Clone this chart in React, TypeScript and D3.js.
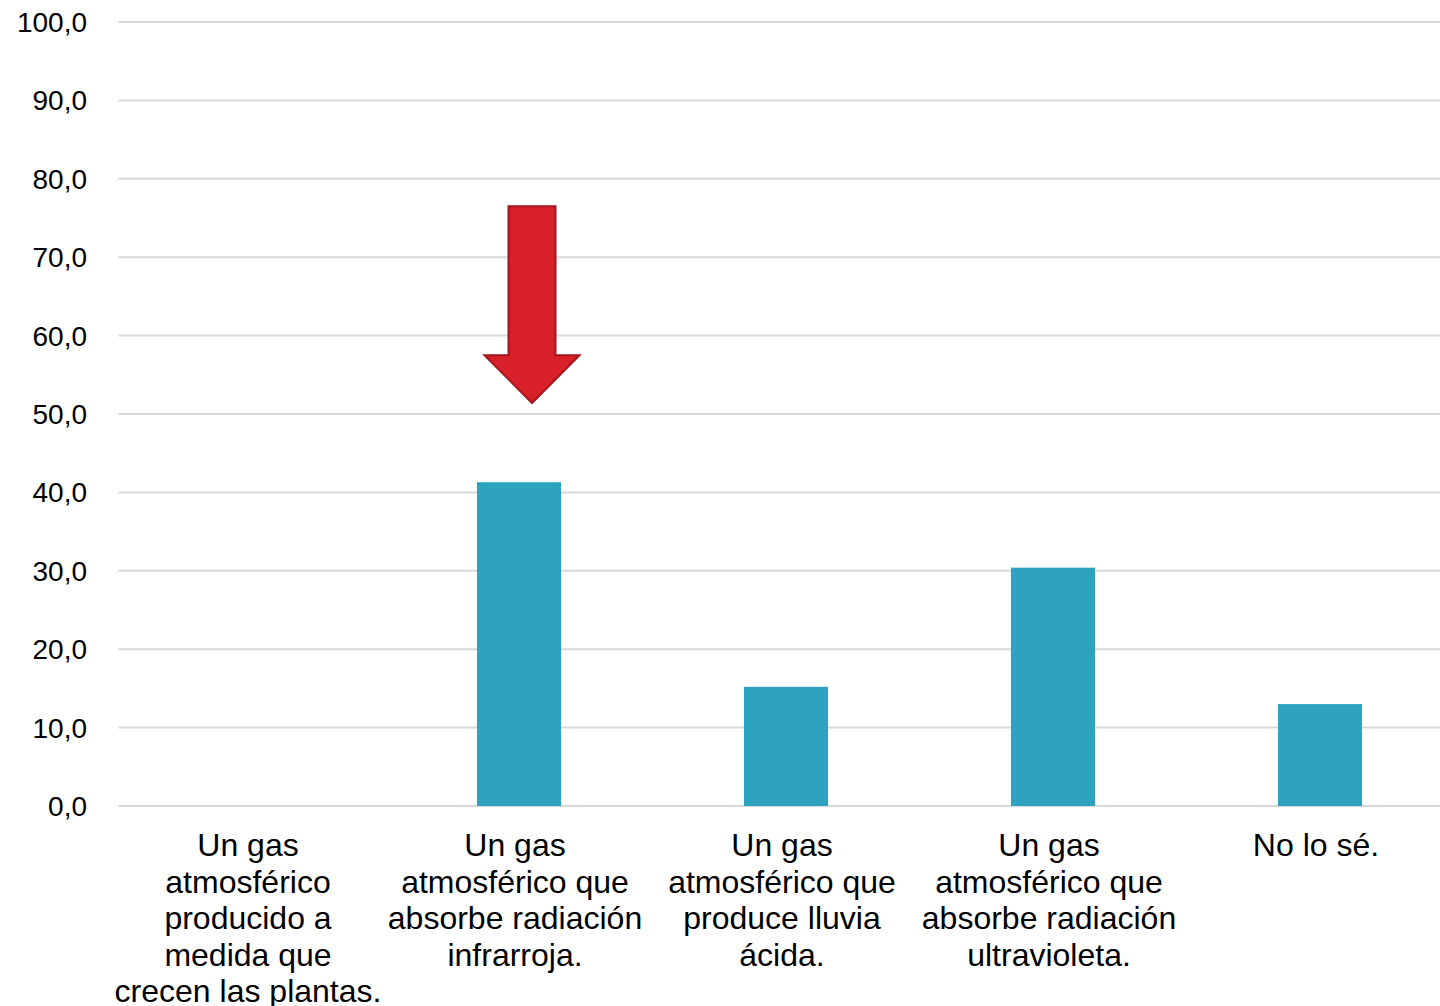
import React from "react";
import * as d3 from "d3";

// Answer categories (each entry is a list of wrapped label lines)
const categories: string[][] = [
  ["Un gas", "atmosférico", "producido a", "medida que", "crecen las plantas."],
  ["Un gas", "atmosférico que", "absorbe radiación", "infrarroja."],
  ["Un gas", "atmosférico que", "produce lluvia", "ácida."],
  ["Un gas", "atmosférico que", "absorbe radiación", "ultravioleta."],
  ["No lo sé."],
];

// Percentage of responses per category
const values: number[] = [0, 41.3, 15.2, 30.4, 13.0];

// Y axis ticks
const yTicks: number[] = [0, 10, 20, 30, 40, 50, 60, 70, 80, 90, 100];

// Arrow marking the correct answer (value range it spans)
const arrowCategory = 1;
const arrowTop = 76.5;
const arrowHeadStart = 57.5;
const arrowTip = 51.4;

const W = 1440;
const H = 1006;
const plotLeft = 118.5;
const plotRight = 1453.5;
const plotTop = 22;
const plotBottom = 806;

const BAR_COLOR = "#2EA3BF";
const GRID_COLOR = "#D9D9D9";
const FONT = "'Liberation Sans', Arial, sans-serif";

export default function App() {
  const keys = categories.map((_, i) => String(i));
  const x = d3
    .scaleBand<string>()
    .domain(keys)
    .range([plotLeft, plotRight])
    .paddingInner(0.685)
    .paddingOuter(0.685 / 2);
  const y = d3.scaleLinear().domain([0, 100]).range([plotBottom, plotTop]);
  const fmt = (v: number) => d3.format(".1f")(v).replace(".", ",");

  const ac = (x(String(arrowCategory)) ?? 0) + x.bandwidth() / 2 + 13;
  const shaftHalf = 23.5;
  const headHalf = 47.5;
  const arrowPath = [
    [ac - shaftHalf, y(arrowTop)],
    [ac + shaftHalf, y(arrowTop)],
    [ac + shaftHalf, y(arrowHeadStart)],
    [ac + headHalf, y(arrowHeadStart)],
    [ac, y(arrowTip)],
    [ac - headHalf, y(arrowHeadStart)],
    [ac - shaftHalf, y(arrowHeadStart)],
  ];
  const line = d3.line().curve(d3.curveLinearClosed);

  return (
    <div style={{ position: "fixed", left: 0, top: 0 }}>
      <svg width={W} height={H} style={{ display: "block", background: "#fff" }}>
        {yTicks.map((t) => (
          <g key={t}>
            <line
              x1={plotLeft}
              x2={W}
              y1={y(t)}
              y2={y(t)}
              stroke={GRID_COLOR}
              strokeWidth={2}
            />
            <text
              x={87}
              y={y(t) + 10}
              textAnchor="end"
              fontFamily={FONT}
              fontSize={28}
              fill="#000"
            >
              {fmt(t)}
            </text>
          </g>
        ))}
        {values.map((v, i) =>
          v > 0 ? (
            <rect
              key={i}
              x={x(String(i))}
              y={y(v)}
              width={x.bandwidth()}
              height={y(0) - y(v)}
              fill={BAR_COLOR}
            />
          ) : null
        )}
        {categories.map((lines, i) => {
          const cx = (x(String(i)) ?? 0) + x.bandwidth() / 2 - 4;
          return (
            <text
              key={i}
              x={cx}
              textAnchor="middle"
              fontFamily={FONT}
              fontSize={32}
              fill="#000"
            >
              {lines.map((l, j) => (
                <tspan key={j} x={cx} y={856 + j * 36.5}>
                  {l}
                </tspan>
              ))}
            </text>
          );
        })}
        <path
          d={line(arrowPath as [number, number][]) ?? ""}
          fill="#D91F2A"
          stroke="#A3161F"
          strokeWidth={2}
          strokeLinejoin="miter"
        />
      </svg>
    </div>
  );
}
